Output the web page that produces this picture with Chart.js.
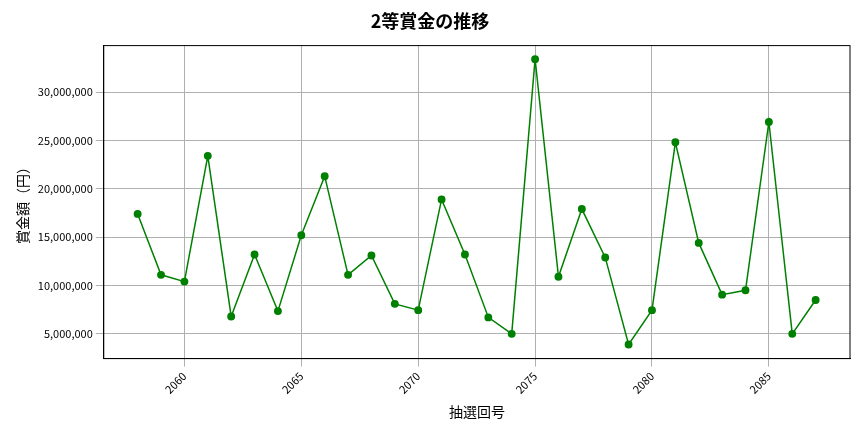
<!DOCTYPE html>
<html lang="ja">
<head>
<meta charset="UTF-8">
<script src="https://cdn.jsdelivr.net/npm/chart.js"></script>
<style>
  body { margin: 0; background: #fff; }
</style>
</head>
<body>
<canvas id="prize" width="864" height="432"></canvas>
<script>
// draw numbers 2058..2087
var rounds = [2058, 2059, 2060, 2061, 2062, 2063, 2064, 2065, 2066, 2067,
              2068, 2069, 2070, 2071, 2072, 2073, 2074, 2075, 2076, 2077,
              2078, 2079, 2080, 2081, 2082, 2083, 2084, 2085, 2086, 2087];
var prizes = [17400000, 11100000, 10400000, 23400000, 6800000, 13200000, 7350000, 15200000, 21300000, 11100000,
              13100000, 8100000, 7450000, 18900000, 13200000, 6700000, 5000000, 33400000, 10900000, 17900000,
              12900000, 3900000, 7450000, 24800000, 14400000, 9050000, 9500000, 26900000, 5000000, 8500000];
var xTicks = [2060, 2065, 2070, 2075, 2080, 2085];

var font = "'Noto Sans CJK JP', 'Noto Sans', sans-serif";
Chart.defaults.font.family = font;
Chart.defaults.color = '#000';

new Chart(document.getElementById('prize'), {
    type: 'line',
    data: {
        datasets: [{
            data: rounds.map((r, i) => ({ x: r, y: prizes[i] })),
            borderColor: 'green',
            backgroundColor: 'green',
            borderWidth: 1.5,
            pointRadius: 3.2,
            tension: 0
        }]
    },
    options: {
        responsive: false,
        animation: false,
        layout: { padding: { left: 10, right: 14, top: 8, bottom: 8 } },
        plugins: {
            legend: { display: false },
            tooltip: { enabled: false },
            title: {
                display: true,
                text: '2等賞金の推移',
                font: { size: 18, weight: 'bold' },
                padding: { top: 2, bottom: 14 }
            }
        },
        scales: {
            x: {
                type: 'linear',
                min: 2056.55,
                max: 2088.47,
                afterBuildTicks: axis => { axis.ticks = xTicks.map(v => ({ value: v })); },
                ticks: { maxRotation: 45, minRotation: 45, font: { size: 11 }, callback: v => String(v) },
                grid: { color: '#b0b0b0' },
                border: { color: '#000' },
                title: { display: true, text: '抽選回号', font: { size: 14 } }
            },
            y: {
                min: 2440000,
                max: 34800000,
                afterBuildTicks: axis => {
                    axis.ticks = [5, 10, 15, 20, 25, 30].map(v => ({ value: v * 1000000 }));
                },
                ticks: { font: { size: 11 }, callback: v => v.toLocaleString('en-US') },
                grid: { color: '#b0b0b0' },
                border: { color: '#000' },
                title: { display: true, text: '賞金額（円）', font: { size: 14 } }
            }
        }
    },
    plugins: [{
        id: 'frame',
        afterDraw(chart) {
            var a = chart.chartArea, c = chart.ctx;
            c.save();
            c.strokeStyle = '#000';
            c.lineWidth = 1;
            c.strokeRect(a.left, a.top, a.right - a.left, a.bottom - a.top);
            c.restore();
        }
    }]
});
</script>
</body>
</html>
